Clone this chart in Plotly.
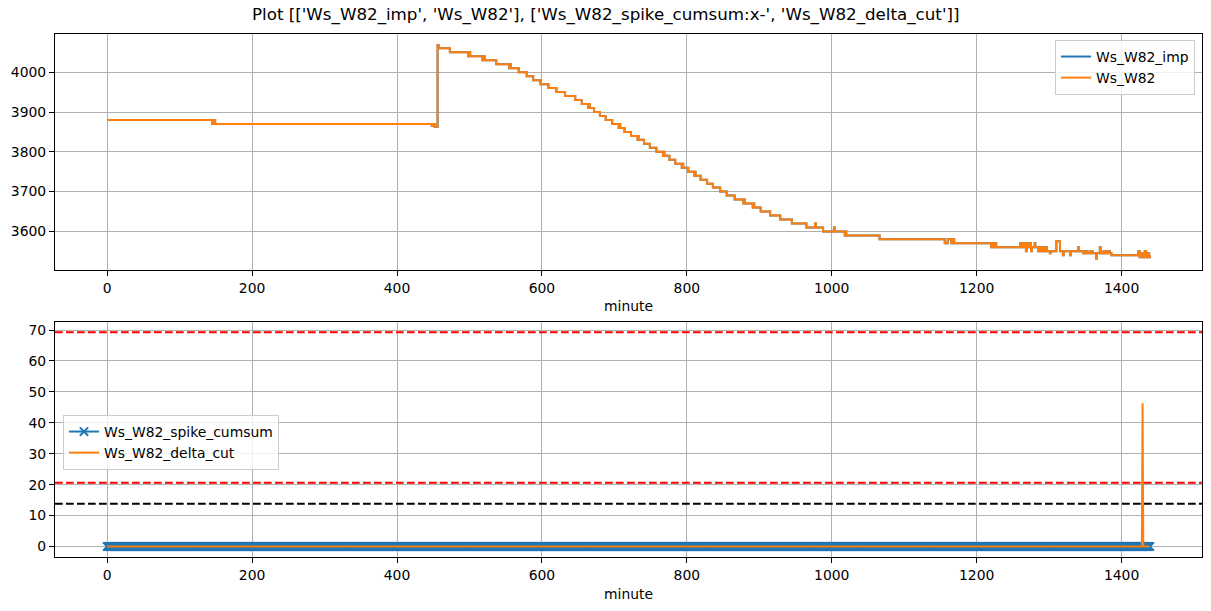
import plotly.graph_objects as go

# ---------------- data ----------------
# Ws_W82: change points of the step signal (minute, value)
ws_minutes = [0, 145, 147, 149, 448, 450, 452, 456, 458, 473, 498, 499, 501, 518, 520, 521,
              537, 555, 556, 557, 568, 579, 588, 598, 609, 620, 632, 646, 655, 664, 665, 666,
              672, 680, 688, 697, 706, 707, 708, 714, 723, 732, 733, 734, 741, 749, 758, 767,
              768, 769, 776, 784, 793, 794, 795, 802, 810, 811, 812, 819, 828, 836, 846, 855,
              866, 878, 879, 880, 891, 892, 893, 902, 915, 929, 945, 965, 977, 978, 988, 1003,
              1004, 1018, 1019, 1020, 1066, 1156, 1160, 1165, 1167, 1169, 1220, 1222, 1224, 1226,
              1227, 1260, 1261, 1264, 1265, 1267, 1268, 1269, 1270, 1271, 1274, 1275, 1276, 1280,
              1281, 1285, 1287, 1289, 1291, 1293, 1295, 1297, 1301, 1302, 1310, 1315, 1319, 1320,
              1329, 1330, 1340, 1341, 1347, 1350, 1353, 1357, 1360, 1365, 1366, 1370, 1371, 1375,
              1376, 1379, 1380, 1383, 1384, 1386, 1423, 1425, 1427, 1430, 1432, 1434, 1436, 1438,
              1439]
ws_values = [3880, 3870, 3880, 3870, 3865, 3870, 3863, 4068, 4060, 4050, 4040, 4050, 4040, 4030, 4040, 4030,
             4020, 4010, 4020, 4010, 4000, 3990, 3980, 3970, 3960, 3950, 3940, 3930, 3920, 3910, 3920, 3910,
             3900, 3890, 3880, 3870, 3860, 3870, 3860, 3850, 3840, 3830, 3840, 3830, 3820, 3810, 3800, 3790,
             3800, 3790, 3780, 3770, 3760, 3770, 3760, 3750, 3740, 3750, 3740, 3730, 3720, 3710, 3700, 3690,
             3680, 3670, 3680, 3670, 3660, 3670, 3660, 3650, 3640, 3630, 3620, 3610, 3620, 3610, 3600, 3610,
             3600, 3590, 3600, 3590, 3580, 3570, 3580, 3570, 3580, 3570, 3560, 3570, 3560, 3570,
             3560, 3570, 3560, 3570, 3560, 3570, 3550, 3560, 3570, 3560, 3570, 3550, 3560, 3570,
             3560, 3550, 3560, 3550, 3560, 3550, 3560, 3550, 3545, 3550, 3575, 3550, 3540, 3550,
             3540, 3550, 3560, 3550, 3545, 3550, 3545, 3550, 3545, 3532, 3545, 3560, 3545, 3550,
             3545, 3550, 3545, 3550, 3545, 3540, 3550, 3535, 3545, 3535, 3550, 3535, 3545, 3535,
             3540]
# Ws_W82_imp is identical to Ws_W82 (hidden underneath it)
ws_imp_minutes = list(ws_minutes)
ws_imp_values = list(ws_values)

# bottom panel
cumsum_minutes = list(range(1440))
spike_cumsum = [0] * len(cumsum_minutes)
delta_cut_minutes = [0, 1428, 1429, 1430, 1439]
delta_cut = [0, 0, 46.3, 0, 0]
upper_red = 69.3
lower_red = 20.6
black_level = 13.8

x_ticks = [0, 200, 400, 600, 800, 1000, 1200, 1400]
top_ticks = [3600, 3700, 3800, 3900, 4000]
bottom_ticks = [0, 10, 20, 30, 40, 50, 60, 70]

title_text = "Plot [['Ws_W82_imp', 'Ws_W82'], ['Ws_W82_spike_cumsum:x-', 'Ws_W82_delta_cut']]"

# ---------------- figure ----------------
W, H = 1211, 611
BLUE, ORANGE = "#1f77b4", "#ff7f0e"
FONT = "DejaVu Sans"
FS = 13.9

def py(px):
    return 1 - px / H

fig = go.Figure()
fig.add_trace(go.Scatter(x=ws_imp_minutes, y=ws_imp_values, mode="lines", line_shape="hv",
                         line=dict(color=BLUE, width=2), name="Ws_W82_imp",
                         xaxis="x", yaxis="y", legend="legend"))
fig.add_trace(go.Scatter(x=ws_minutes, y=ws_values, mode="lines", line_shape="hv",
                         line=dict(color=ORANGE, width=2), name="Ws_W82",
                         xaxis="x", yaxis="y", legend="legend"))
fig.add_trace(go.Scatter(x=cumsum_minutes, y=spike_cumsum, mode="lines+markers",
                         line=dict(color=BLUE, width=2),
                         marker=dict(symbol="x-thin", size=8.3, line=dict(color=BLUE, width=2)),
                         name="Ws_W82_spike_cumsum", xaxis="x2", yaxis="y2", legend="legend2"))
fig.add_trace(go.Scatter(x=delta_cut_minutes, y=delta_cut, mode="lines",
                         line=dict(color=ORANGE, width=2), name="Ws_W82_delta_cut",
                         xaxis="x2", yaxis="y2", legend="legend2"))

for val, col in [(upper_red, "red"), (lower_red, "red"), (black_level, "black")]:
    fig.add_shape(type="line", xref="x2 domain", yref="y2", x0=0, x1=1, y0=val, y1=val,
                  line=dict(color=col, width=2, dash="7.7px,3.3px"))

xdom = [55 / W, 1202 / W]
axis_common = dict(showline=True, mirror=True, linecolor="black", linewidth=1.1,
                   ticks="outside", ticklen=5, tickcolor="black", tickwidth=1.1,
                   showgrid=True, gridcolor="#b0b0b0", gridwidth=1.1, zeroline=False,
                   automargin=False,
                   tickfont=dict(family=FONT, size=FS, color="black"))

fig.update_layout(
    width=W, height=H,
    margin=dict(l=0, r=0, t=0, b=0),
    paper_bgcolor="white", plot_bgcolor="white",
    font=dict(family=FONT, color="black"),
    xaxis=dict(domain=xdom, anchor="y", range=[-72, 1511], tickvals=x_ticks, **axis_common),
    yaxis=dict(domain=[py(270), py(34)], anchor="x", range=[3503, 4096], tickvals=top_ticks, **axis_common),
    xaxis2=dict(domain=xdom, anchor="y2", range=[-72, 1511], tickvals=x_ticks, **axis_common),
    yaxis2=dict(domain=[py(557), py(322)], anchor="x2", range=[-3.4, 72.6], tickvals=bottom_ticks, **axis_common),
    legend=dict(x=1195 / W, xanchor="right", y=py(40), yanchor="top",
                bgcolor="rgba(255,255,255,0.8)", bordercolor="#cccccc", borderwidth=1,
                font=dict(family=FONT, size=FS)),
    legend2=dict(x=63 / W, xanchor="left", y=py(415), yanchor="top",
                 bgcolor="rgba(255,255,255,0.8)", bordercolor="#cccccc", borderwidth=1,
                 font=dict(family=FONT, size=FS)),
    annotations=[
        dict(text=title_text, x=0.5, y=py(15), xref="paper", yref="paper",
             xanchor="center", yanchor="middle", showarrow=False,
             font=dict(family=FONT, size=16.7, color="black")),
        dict(text="minute", x=0.5, y=py(306), xref="x domain", yref="paper",
             xanchor="center", yanchor="middle", showarrow=False,
             font=dict(family=FONT, size=FS, color="black")),
        dict(text="minute", x=0.5, y=py(594), xref="x2 domain", yref="paper",
             xanchor="center", yanchor="middle", showarrow=False,
             font=dict(family=FONT, size=FS, color="black")),
    ],
)

fig.write_html("out.html", config={"displayModeBar": False},
               post_script="document.body.style.margin='0';document.body.style.overflow='hidden';")
